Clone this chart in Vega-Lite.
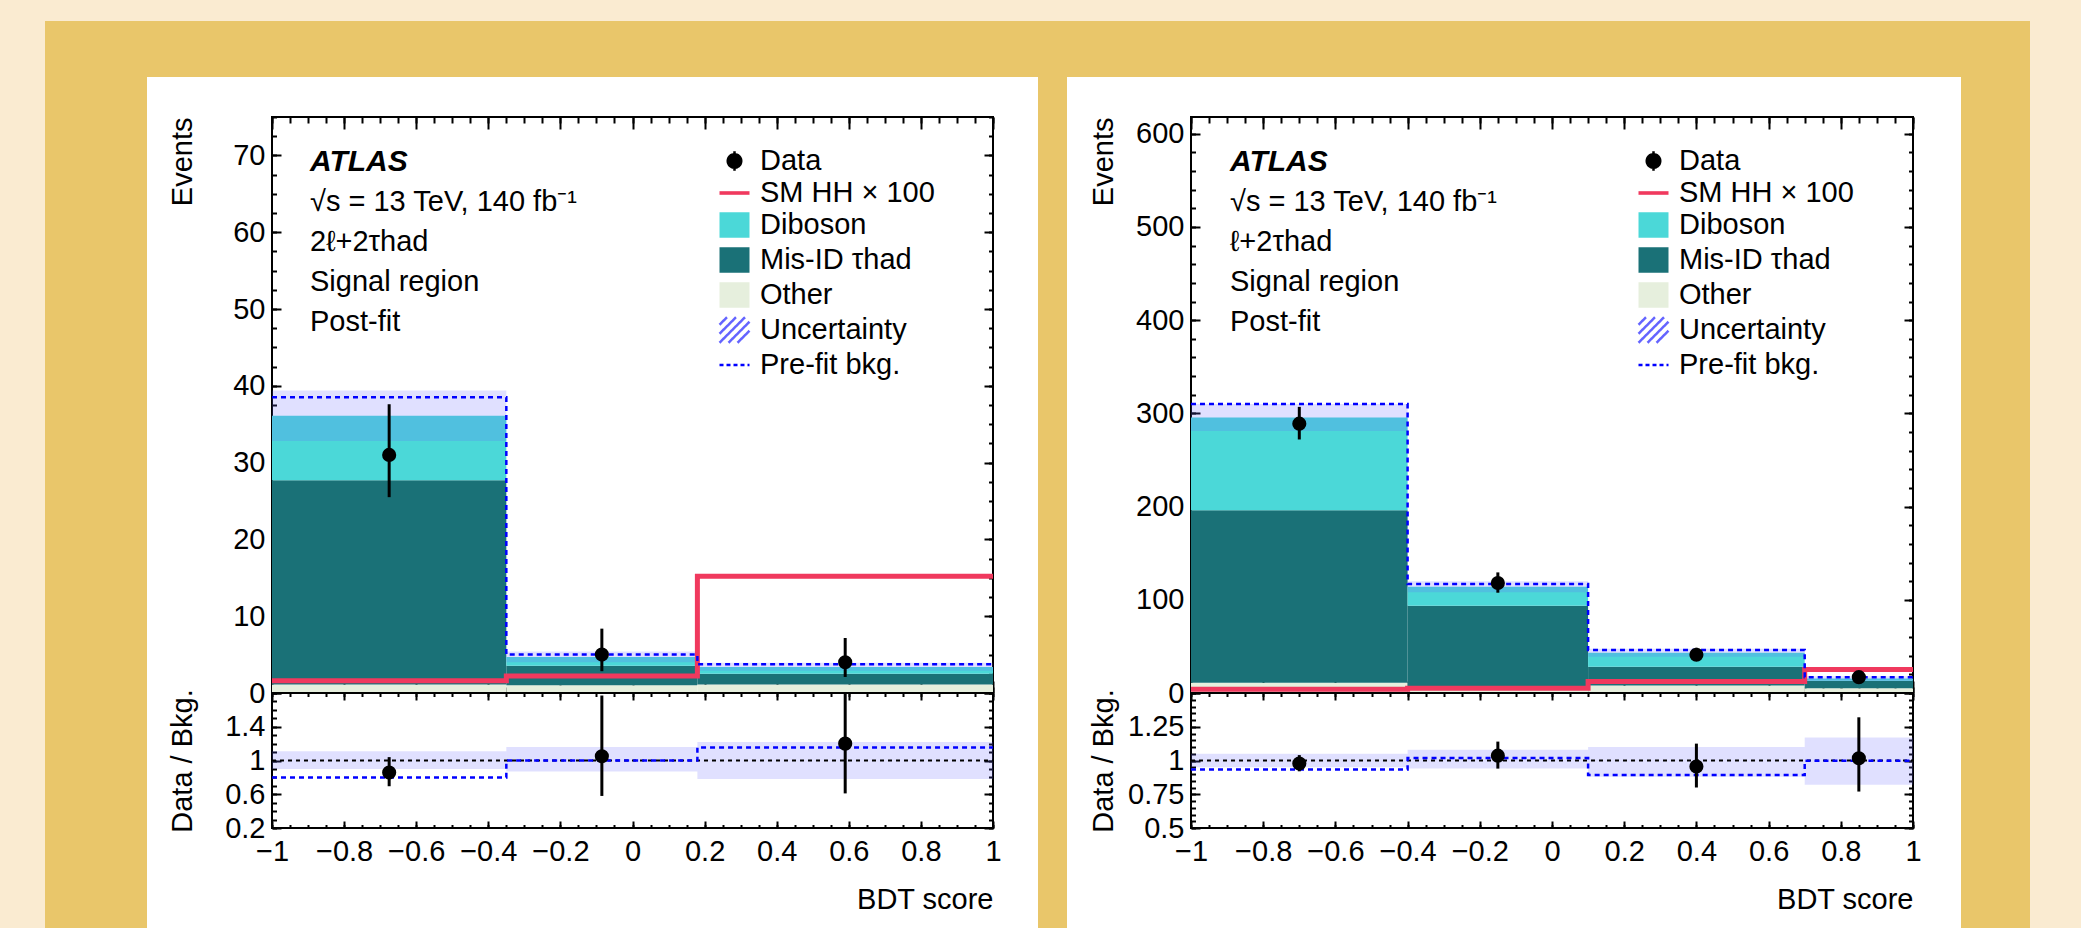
{
  "$schema": "https://vega.github.io/schema/vega-lite/v6.json",
  "background": "white",
  "padding": 0,
  "spacing": 0,
  "config": {
    "font": "Liberation Sans",
    "view": {"stroke": "black", "strokeWidth": 2},
    "axis": {"domain": false, "grid": false, "tickColor": "black", "tickWidth": 2, "labelFont": "Liberation Sans", "labelFontSize": 29, "labelColor": "black", "titleFont": "Liberation Sans", "titleFontSize": 29, "titleFontWeight": "normal", "titleColor": "black", "labelFlush": false, "labelOverlap": false, "labelBound": false},
    "legend": {"orient": "none", "legendX": 446, "legendY": 27.5, "labelFont": "Liberation Sans", "labelFontSize": 29, "labelColor": "black", "symbolSize": 900, "symbolStrokeWidth": 2.5, "rowPadding": -2, "labelOffset": 9, "padding": 0, "labelLimit": 600, "symbolOpacity": 1, "offset": 0}
  },
  "datasets": {
    "Lstack": [
      {"lo": -1, "hi": -0.35, "process": "Other", "events": 1.1},
      {"lo": -1, "hi": -0.35, "process": "Mis-ID", "events": 26.6},
      {"lo": -1, "hi": -0.35, "process": "Diboson", "events": 8.4},
      {"lo": -0.35, "hi": 0.18, "process": "Other", "events": 1.0},
      {"lo": -0.35, "hi": 0.18, "process": "Mis-ID", "events": 2.55},
      {"lo": -0.35, "hi": 0.18, "process": "Diboson", "events": 1.15},
      {"lo": 0.18, "hi": 1, "process": "Other", "events": 1.1},
      {"lo": 0.18, "hi": 1, "process": "Mis-ID", "events": 1.4},
      {"lo": 0.18, "hi": 1, "process": "Diboson", "events": 0.9}
    ],
    "Lbins": [
      {"lo": -1, "hi": -0.35, "center": -0.675, "unc_lo": 32.8, "unc_hi": 39.4, "data": 31, "data_lo": 25.5, "data_hi": 37.6, "r": 0.857, "r_lo": 0.695, "r_hi": 1.04, "runc_lo": 0.9, "runc_hi": 1.11},
      {"lo": -0.35, "hi": 0.18, "center": -0.085, "unc_lo": 4.0, "unc_hi": 5.4, "data": 5, "data_lo": 2.84, "data_hi": 8.38, "r": 1.05, "r_lo": 0.58, "r_hi": 1.77, "runc_lo": 0.87, "runc_hi": 1.16},
      {"lo": 0.18, "hi": 1, "center": 0.59, "unc_lo": 2.9, "unc_hi": 3.95, "data": 4, "data_lo": 2.09, "data_hi": 7.16, "r": 1.2, "r_lo": 0.61, "r_hi": 2.15, "runc_lo": 0.78, "runc_hi": 1.22}
    ],
    "Lstep": [
      {"edge": -1, "signal": 1.6, "prefit": 38.5, "r_prefit": 0.8},
      {"edge": -0.35, "signal": 2.2, "prefit": 5.0, "r_prefit": 1.0},
      {"edge": 0.18, "signal": 15.2, "prefit": 3.75, "r_prefit": 1.155},
      {"edge": 1, "signal": 15.2, "prefit": 3.75, "r_prefit": 1.155}
    ],
    "Rstack": [
      {"lo": -1, "hi": -0.4, "process": "Other", "events": 11},
      {"lo": -1, "hi": -0.4, "process": "Mis-ID", "events": 185},
      {"lo": -1, "hi": -0.4, "process": "Diboson", "events": 99.5},
      {"lo": -0.4, "hi": 0.1, "process": "Other", "events": 4},
      {"lo": -0.4, "hi": 0.1, "process": "Mis-ID", "events": 89.6},
      {"lo": -0.4, "hi": 0.1, "process": "Diboson", "events": 20.4},
      {"lo": 0.1, "hi": 0.7, "process": "Other", "events": 8},
      {"lo": 0.1, "hi": 0.7, "process": "Mis-ID", "events": 20.2},
      {"lo": 0.1, "hi": 0.7, "process": "Diboson", "events": 15},
      {"lo": 0.7, "hi": 1, "process": "Other", "events": 5},
      {"lo": 0.7, "hi": 1, "process": "Mis-ID", "events": 8.2},
      {"lo": 0.7, "hi": 1, "process": "Diboson", "events": 2.3}
    ],
    "Rbins": [
      {"lo": -1, "hi": -0.4, "center": -0.7, "unc_lo": 281, "unc_hi": 310, "data": 289, "data_lo": 272, "data_hi": 307, "r": 0.978, "r_lo": 0.92, "r_hi": 1.04, "runc_lo": 0.95, "runc_hi": 1.05},
      {"lo": -0.4, "hi": 0.1, "center": -0.15, "unc_lo": 108, "unc_hi": 120, "data": 118, "data_lo": 107.6, "data_hi": 129.4, "r": 1.036, "r_lo": 0.94, "r_hi": 1.14, "runc_lo": 0.94, "runc_hi": 1.08},
      {"lo": 0.1, "hi": 0.7, "center": 0.4, "unc_lo": 39, "unc_hi": 47.5, "data": 41, "data_lo": 34.6, "data_hi": 48.5, "r": 0.955, "r_lo": 0.8, "r_hi": 1.125, "runc_lo": 0.88, "runc_hi": 1.1},
      {"lo": 0.7, "hi": 1, "center": 0.85, "unc_lo": 13, "unc_hi": 18, "data": 17, "data_lo": 12.9, "data_hi": 22.2, "r": 1.016, "r_lo": 0.77, "r_hi": 1.32, "runc_lo": 0.82, "runc_hi": 1.17}
    ],
    "Rstep": [
      {"edge": -1, "signal": 4, "prefit": 310, "r_prefit": 0.933},
      {"edge": -0.4, "signal": 5, "prefit": 117, "r_prefit": 1.018},
      {"edge": 0.1, "signal": 12.3, "prefit": 46.1, "r_prefit": 0.893},
      {"edge": 0.7, "signal": 25.2, "prefit": 16.8, "r_prefit": 0.998},
      {"edge": 1, "signal": 25.2, "prefit": 16.8, "r_prefit": 0.998}
    ]
  },
  "vconcat": [
    {"width": 2081, "height": 21, "data": {"values": []}, "mark": "point", "view": {"fill": "#FAEBD1", "stroke": null}},
    {
      "spacing": 0,
      "hconcat": [
        {"width": 45, "height": 907, "data": {"values": []}, "mark": "point", "view": {"fill": "#FAEBD1", "stroke": null}},
        {
          "spacing": 0,
          "vconcat": [
            {"width": 1916, "height": 56, "data": {"values": []}, "mark": "point", "view": {"fill": "#E9C66A", "stroke": null}},
            {
              "spacing": 34,
              "hconcat": [
                {
                  "spacing": 20,
                  "hconcat": [
                    {"width": 102, "height": 851, "data": {"values": []}, "mark": "point", "view": {"fill": "#E9C66A", "stroke": null}},
                    {
                      "spacing": 0,
                      "bounds": "flush",
                      "resolve": {"scale": {"color": "independent", "fill": "independent", "stroke": "independent", "shape": "independent", "strokeDash": "independent"}, "legend": {"color": "independent", "fill": "independent", "stroke": "independent", "shape": "independent", "strokeDash": "independent"}},
                      "vconcat": [
                        {"width": 721, "height": 40, "data": {"values": []}, "mark": "point", "view": {"stroke": null}},
                        {
                          "width": 721, "height": 576,
                          "resolve": {"axis": {"x": "independent", "y": "independent"}},
                          "title": {"text": "ATLAS", "subtitle": ["√s = 13 TeV, 140 fb⁻¹", "2ℓ+2τhad", "Signal region", "Post-fit"], "anchor": "start", "frame": "group", "orient": "top", "offset": -221, "dx": 38, "font": "Liberation Sans", "fontSize": 30, "fontStyle": "italic", "fontWeight": "bold", "color": "black", "subtitleFont": "Liberation Sans", "subtitleFontSize": 29, "subtitleColor": "black", "subtitleLineHeight": 40, "subtitlePadding": 11},
                          "layer": [
                            {
                              "data": {"name": "Lstack"},
                              "transform": [{"stack": "events", "groupby": ["lo"], "sort": [{"field": "process", "order": "descending"}], "as": ["s0", "s1"]}],
                              "mark": {"type": "rect"},
                              "encoding": {
                                "x": {"field": "lo", "type": "quantitative", "scale": {"domain": [-1, 1], "nice": false, "zero": false}, "axis": {"orient": "bottom", "values": [-1,-0.8,-0.6,-0.4,-0.2,0,0.2,0.4,0.6,0.8,1], "tickSize": -12, "labels": false, "title": null, "minExtent": 0, "maxExtent": 0}},
                                "x2": {"field": "hi"},
                                "y": {"field": "s0", "type": "quantitative", "scale": {"domain": [0, 75], "nice": false, "zero": false}, "axis": {"orient": "left", "values": [0,10,20,30,40,50,60,70], "format": ".0f", "ticks": false, "labelPadding": 7, "title": "Events", "titleAnchor": "end", "titlePadding": 23, "minExtent": 52, "maxExtent": 52}},
                                "y2": {"field": "s1"},
                                "color": {"field": "process", "type": "nominal", "scale": {"domain": ["Diboson", "Mis-ID", "Other"], "range": ["#4BD8D8", "#1A7177", "#E6EFDD"]}, "legend": null}
                              }
                            },
                            {
                              "data": {"name": "Lbins"},
                              "mark": {"type": "rect", "fill": "#6464FF", "fillOpacity": 0.2},
                              "encoding": {
                                "x": {"field": "lo", "type": "quantitative", "scale": {"domain": [-1, 1], "nice": false, "zero": false}, "axis": {"orient": "bottom", "values": [-1,-0.95,-0.9,-0.85,-0.8,-0.75,-0.7,-0.65,-0.6,-0.55,-0.5,-0.45,-0.4,-0.35,-0.3,-0.25,-0.2,-0.15,-0.1,-0.05,0,0.05,0.1,0.15,0.2,0.25,0.3,0.35,0.4,0.45,0.5,0.55,0.6,0.65,0.7,0.75,0.8,0.85,0.9,0.95,1], "tickSize": -6, "labels": false, "title": null, "minExtent": 0, "maxExtent": 0}},
                                "x2": {"field": "hi"},
                                "y": {"field": "unc_lo", "type": "quantitative", "scale": {"domain": [0, 75], "nice": false, "zero": false}, "axis": {"orient": "left", "values": [0,10,20,30,40,50,60,70], "tickSize": -9, "labels": false, "title": null, "minExtent": 0, "maxExtent": 0}},
                                "y2": {"field": "unc_hi"}
                              }
                            },
                            {
                              "data": {"name": "Lstep"},
                              "mark": {"type": "line", "interpolate": "step-after", "color": "#F0395E", "strokeWidth": 5},
                              "encoding": {
                                "x": {"field": "edge", "type": "quantitative", "scale": {"domain": [-1, 1], "nice": false, "zero": false}, "axis": {"orient": "top", "values": [-1,-0.8,-0.6,-0.4,-0.2,0,0.2,0.4,0.6,0.8,1], "tickSize": -12, "labels": false, "title": null, "minExtent": 0, "maxExtent": 0}},
                                "y": {"field": "signal", "type": "quantitative", "scale": {"domain": [0, 75], "nice": false, "zero": false}, "axis": {"orient": "left", "values": [0,2.5,5,7.5,10,12.5,15,17.5,20,22.5,25,27.5,30,32.5,35,37.5,40,42.5,45,47.5,50,52.5,55,57.5,60,62.5,65,67.5,70,72.5,75], "tickSize": -4.5, "labels": false, "title": null, "minExtent": 0, "maxExtent": 0}}
                              }
                            },
                            {
                              "data": {"name": "Lstep"},
                              "mark": {"type": "line", "interpolate": "step-after", "color": "#0000FF", "strokeWidth": 2.5, "strokeDash": [5, 4]},
                              "encoding": {
                                "x": {"field": "edge", "type": "quantitative", "scale": {"domain": [-1, 1], "nice": false, "zero": false}, "axis": {"orient": "top", "values": [-1,-0.95,-0.9,-0.85,-0.8,-0.75,-0.7,-0.65,-0.6,-0.55,-0.5,-0.45,-0.4,-0.35,-0.3,-0.25,-0.2,-0.15,-0.1,-0.05,0,0.05,0.1,0.15,0.2,0.25,0.3,0.35,0.4,0.45,0.5,0.55,0.6,0.65,0.7,0.75,0.8,0.85,0.9,0.95,1], "tickSize": -6, "labels": false, "title": null, "minExtent": 0, "maxExtent": 0}},
                                "y": {"field": "prefit", "type": "quantitative", "scale": {"domain": [0, 75], "nice": false, "zero": false}, "axis": {"orient": "right", "values": [0,10,20,30,40,50,60,70], "tickSize": -9, "labels": false, "title": null, "minExtent": 0, "maxExtent": 0}}
                              }
                            },
                            {
                              "data": {"name": "Lbins"},
                              "mark": {"type": "rule", "color": "black", "strokeWidth": 3},
                              "encoding": {
                                "x": {"field": "center", "type": "quantitative", "scale": {"domain": [-1, 1], "nice": false, "zero": false}, "axis": null},
                                "y": {"field": "data_lo", "type": "quantitative", "scale": {"domain": [0, 75], "nice": false, "zero": false}, "axis": {"orient": "right", "values": [0,2.5,5,7.5,10,12.5,15,17.5,20,22.5,25,27.5,30,32.5,35,37.5,40,42.5,45,47.5,50,52.5,55,57.5,60,62.5,65,67.5,70,72.5,75], "tickSize": -4.5, "labels": false, "title": null, "minExtent": 0, "maxExtent": 0}},
                                "y2": {"field": "data_hi"}
                              }
                            },
                            {
                              "data": {"name": "Lbins"},
                              "mark": {"type": "circle", "color": "black", "size": 200, "opacity": 1},
                              "encoding": {
                                "x": {"field": "center", "type": "quantitative", "scale": {"domain": [-1, 1], "nice": false, "zero": false}, "axis": null},
                                "y": {"field": "data", "type": "quantitative", "scale": {"domain": [0, 75], "nice": false, "zero": false}, "axis": null}
                              }
                            },
                            {
                              "data": {"values": []},
                              "mark": {"type": "point", "filled": true, "size": 900, "opacity": 1, "strokeWidth": 2.5},
                              "encoding": {
                                "shape": {"field": "entry", "type": "nominal", "scale": {"domain": ["Data", "SM HH × 100", "Diboson", "Mis-ID τhad", "Other", "Uncertainty", "Pre-fit bkg."], "range": ["M0,-0.65V0.65M-0.45,0A0.45,0.45,0,1,1,0.45,0A0.45,0.45,0,1,1,-0.45,0Z", "M-1,-0.12H1V0.12H-1Z", "M-1,-0.85H1V0.85H-1Z", "M-1,-0.85H1V0.85H-1Z", "M-1,-0.85H1V0.85H-1Z", "M-1,-0.35L-0.5,-0.85M-1,0.25L0.1,-0.85M-1,0.85L0.7,-0.85M-0.4,0.85L1,-0.55M0.2,0.85L1,0.05", "M-1,0H1"]}, "legend": {"title": null}},
                                "fill": {"field": "entry", "type": "nominal", "scale": {"domain": ["Data", "SM HH × 100", "Diboson", "Mis-ID τhad", "Other", "Uncertainty", "Pre-fit bkg."], "range": ["black", "#F0395E", "#4BD8D8", "#1A7177", "#E6EFDD", "transparent", "transparent"]}, "legend": {"title": null}},
                                "stroke": {"field": "entry", "type": "nominal", "scale": {"domain": ["Data", "SM HH × 100", "Diboson", "Mis-ID τhad", "Other", "Uncertainty", "Pre-fit bkg."], "range": ["black", "transparent", "transparent", "transparent", "transparent", "#6464FF", "#0000FF"]}, "legend": {"title": null}},
                                "strokeDash": {"field": "entry", "type": "nominal", "scale": {"domain": ["Data", "SM HH × 100", "Diboson", "Mis-ID τhad", "Other", "Uncertainty", "Pre-fit bkg."], "range": [[1, 0], [1, 0], [1, 0], [1, 0], [1, 0], [1, 0], [4, 3]]}, "legend": {"title": null}}
                              }
                            }
                          ]
                        },
                        {
                          "width": 721, "height": 135,
                          "resolve": {"axis": {"x": "independent", "y": "independent"}},
                          "layer": [
                            {
                              "data": {"name": "Lbins"},
                              "mark": {"type": "rect", "fill": "#6464FF", "fillOpacity": 0.2},
                              "encoding": {
                                "x": {"field": "lo", "type": "quantitative", "scale": {"domain": [-1, 1], "nice": false, "zero": false}, "axis": {"orient": "bottom", "values": [-1,-0.8,-0.6,-0.4,-0.2,0,0.2,0.4,0.6,0.8,1], "format": ".1~f", "ticks": false, "labelPadding": 9, "title": "BDT score", "titleAnchor": "end", "titlePadding": 19}},
                                "x2": {"field": "hi"},
                                "y": {"field": "runc_lo", "type": "quantitative", "scale": {"domain": [0.2, 1.8], "nice": false, "zero": false}, "axis": {"orient": "left", "values": [0.2, 0.6, 1, 1.4], "format": ".1~f", "ticks": false, "labelPadding": 7, "title": "Data / Bkg.", "titlePadding": 23, "minExtent": 52, "maxExtent": 52}},
                                "y2": {"field": "runc_hi"}
                              }
                            },
                            {
                              "data": {"values": [{}]},
                              "mark": {"type": "rule", "color": "black", "strokeWidth": 2, "strokeDash": [4, 4]},
                              "encoding": {
                                "x": {"datum": -1, "type": "quantitative", "scale": {"domain": [-1, 1], "nice": false, "zero": false}, "axis": {"orient": "bottom", "values": [-1,-0.8,-0.6,-0.4,-0.2,0,0.2,0.4,0.6,0.8,1], "tickSize": -7, "labels": false, "title": null, "minExtent": 0, "maxExtent": 0}},
                                "x2": {"datum": 1},
                                "y": {"datum": 1, "type": "quantitative", "scale": {"domain": [0.2, 1.8], "nice": false, "zero": false}, "axis": {"orient": "left", "values": [0.2, 0.6, 1, 1.4, 1.8], "tickSize": -9, "labels": false, "title": null, "minExtent": 0, "maxExtent": 0}}
                              }
                            },
                            {
                              "data": {"name": "Lstep"},
                              "mark": {"type": "line", "interpolate": "step-after", "color": "#0000FF", "strokeWidth": 2.5, "strokeDash": [5, 4]},
                              "encoding": {
                                "x": {"field": "edge", "type": "quantitative", "scale": {"domain": [-1, 1], "nice": false, "zero": false}, "axis": {"orient": "bottom", "values": [-1,-0.95,-0.9,-0.85,-0.8,-0.75,-0.7,-0.65,-0.6,-0.55,-0.5,-0.45,-0.4,-0.35,-0.3,-0.25,-0.2,-0.15,-0.1,-0.05,0,0.05,0.1,0.15,0.2,0.25,0.3,0.35,0.4,0.45,0.5,0.55,0.6,0.65,0.7,0.75,0.8,0.85,0.9,0.95,1], "tickSize": -3.5, "labels": false, "title": null, "minExtent": 0, "maxExtent": 0}},
                                "y": {"field": "r_prefit", "type": "quantitative", "scale": {"domain": [0.2, 1.8], "nice": false, "zero": false}, "axis": {"orient": "left", "values": [0.2,0.3,0.4,0.5,0.6,0.7,0.8,0.9,1,1.1,1.2,1.3,1.4,1.5,1.6,1.7,1.8], "tickSize": -4.5, "labels": false, "title": null, "minExtent": 0, "maxExtent": 0}}
                              }
                            },
                            {
                              "data": {"name": "Lbins"},
                              "mark": {"type": "rule", "color": "black", "strokeWidth": 3, "clip": true},
                              "encoding": {
                                "x": {"field": "center", "type": "quantitative", "scale": {"domain": [-1, 1], "nice": false, "zero": false}, "axis": {"orient": "top", "values": [-1,-0.8,-0.6,-0.4,-0.2,0,0.2,0.4,0.6,0.8,1], "tickSize": -7, "labels": false, "title": null, "minExtent": 0, "maxExtent": 0}},
                                "y": {"field": "r_lo", "type": "quantitative", "scale": {"domain": [0.2, 1.8], "nice": false, "zero": false}, "axis": {"orient": "right", "values": [0.2, 0.6, 1, 1.4, 1.8], "tickSize": -9, "labels": false, "title": null, "minExtent": 0, "maxExtent": 0}},
                                "y2": {"field": "r_hi"}
                              }
                            },
                            {
                              "data": {"name": "Lbins"},
                              "mark": {"type": "circle", "color": "black", "size": 200, "opacity": 1},
                              "encoding": {
                                "x": {"field": "center", "type": "quantitative", "scale": {"domain": [-1, 1], "nice": false, "zero": false}, "axis": {"orient": "top", "values": [-1,-0.95,-0.9,-0.85,-0.8,-0.75,-0.7,-0.65,-0.6,-0.55,-0.5,-0.45,-0.4,-0.35,-0.3,-0.25,-0.2,-0.15,-0.1,-0.05,0,0.05,0.1,0.15,0.2,0.25,0.3,0.35,0.4,0.45,0.5,0.55,0.6,0.65,0.7,0.75,0.8,0.85,0.9,0.95,1], "tickSize": -3.5, "labels": false, "title": null, "minExtent": 0, "maxExtent": 0}},
                                "y": {"field": "r", "type": "quantitative", "scale": {"domain": [0.2, 1.8], "nice": false, "zero": false}, "axis": {"orient": "right", "values": [0.2,0.3,0.4,0.5,0.6,0.7,0.8,0.9,1,1.1,1.2,1.3,1.4,1.5,1.6,1.7,1.8], "tickSize": -4.5, "labels": false, "title": null, "minExtent": 0, "maxExtent": 0}}
                              }
                            }
                          ]
                        }
                      ]
                    }
                  ]
                },
                {
                  "spacing": 21,
                  "hconcat": [
                    {"width": 29, "height": 851, "data": {"values": []}, "mark": "point", "view": {"fill": "#E9C66A", "stroke": null}},
                    {
                      "spacing": 0,
                      "bounds": "flush",
                      "resolve": {"scale": {"color": "independent", "fill": "independent", "stroke": "independent", "shape": "independent", "strokeDash": "independent"}, "legend": {"color": "independent", "fill": "independent", "stroke": "independent", "shape": "independent", "strokeDash": "independent"}},
                      "vconcat": [
                        {"width": 722, "height": 40, "data": {"values": []}, "mark": "point", "view": {"stroke": null}},
                        {
                          "width": 722, "height": 576,
                          "resolve": {"axis": {"x": "independent", "y": "independent"}},
                          "title": {"text": "ATLAS", "subtitle": ["√s = 13 TeV, 140 fb⁻¹", "ℓ+2τhad", "Signal region", "Post-fit"], "anchor": "start", "frame": "group", "orient": "top", "offset": -221, "dx": 39, "font": "Liberation Sans", "fontSize": 30, "fontStyle": "italic", "fontWeight": "bold", "color": "black", "subtitleFont": "Liberation Sans", "subtitleFontSize": 29, "subtitleColor": "black", "subtitleLineHeight": 40, "subtitlePadding": 11},
                          "layer": [
                            {
                              "data": {"name": "Rstack"},
                              "transform": [{"stack": "events", "groupby": ["lo"], "sort": [{"field": "process", "order": "descending"}], "as": ["s0", "s1"]}],
                              "mark": {"type": "rect"},
                              "encoding": {
                                "x": {"field": "lo", "type": "quantitative", "scale": {"domain": [-1, 1], "nice": false, "zero": false}, "axis": {"orient": "bottom", "values": [-1,-0.8,-0.6,-0.4,-0.2,0,0.2,0.4,0.6,0.8,1], "tickSize": -12, "labels": false, "title": null, "minExtent": 0, "maxExtent": 0}},
                                "x2": {"field": "hi"},
                                "y": {"field": "s0", "type": "quantitative", "scale": {"domain": [0, 618], "nice": false, "zero": false}, "axis": {"orient": "left", "values": [0,100,200,300,400,500,600], "format": ".0f", "ticks": false, "labelPadding": 7, "title": "Events", "titleAnchor": "end", "titlePadding": 13, "minExtent": 60, "maxExtent": 60}},
                                "y2": {"field": "s1"},
                                "color": {"field": "process", "type": "nominal", "scale": {"domain": ["Diboson", "Mis-ID", "Other"], "range": ["#4BD8D8", "#1A7177", "#E6EFDD"]}, "legend": null}
                              }
                            },
                            {
                              "data": {"name": "Rbins"},
                              "mark": {"type": "rect", "fill": "#6464FF", "fillOpacity": 0.2},
                              "encoding": {
                                "x": {"field": "lo", "type": "quantitative", "scale": {"domain": [-1, 1], "nice": false, "zero": false}, "axis": {"orient": "bottom", "values": [-1,-0.95,-0.9,-0.85,-0.8,-0.75,-0.7,-0.65,-0.6,-0.55,-0.5,-0.45,-0.4,-0.35,-0.3,-0.25,-0.2,-0.15,-0.1,-0.05,0,0.05,0.1,0.15,0.2,0.25,0.3,0.35,0.4,0.45,0.5,0.55,0.6,0.65,0.7,0.75,0.8,0.85,0.9,0.95,1], "tickSize": -6, "labels": false, "title": null, "minExtent": 0, "maxExtent": 0}},
                                "x2": {"field": "hi"},
                                "y": {"field": "unc_lo", "type": "quantitative", "scale": {"domain": [0, 618], "nice": false, "zero": false}, "axis": {"orient": "left", "values": [0,100,200,300,400,500,600], "tickSize": -9, "labels": false, "title": null, "minExtent": 0, "maxExtent": 0}},
                                "y2": {"field": "unc_hi"}
                              }
                            },
                            {
                              "data": {"name": "Rstep"},
                              "mark": {"type": "line", "interpolate": "step-after", "color": "#F0395E", "strokeWidth": 5},
                              "encoding": {
                                "x": {"field": "edge", "type": "quantitative", "scale": {"domain": [-1, 1], "nice": false, "zero": false}, "axis": {"orient": "top", "values": [-1,-0.8,-0.6,-0.4,-0.2,0,0.2,0.4,0.6,0.8,1], "tickSize": -12, "labels": false, "title": null, "minExtent": 0, "maxExtent": 0}},
                                "y": {"field": "signal", "type": "quantitative", "scale": {"domain": [0, 618], "nice": false, "zero": false}, "axis": {"orient": "left", "values": [0,20,40,60,80,100,120,140,160,180,200,220,240,260,280,300,320,340,360,380,400,420,440,460,480,500,520,540,560,580,600], "tickSize": -4.5, "labels": false, "title": null, "minExtent": 0, "maxExtent": 0}}
                              }
                            },
                            {
                              "data": {"name": "Rstep"},
                              "mark": {"type": "line", "interpolate": "step-after", "color": "#0000FF", "strokeWidth": 2.5, "strokeDash": [5, 4]},
                              "encoding": {
                                "x": {"field": "edge", "type": "quantitative", "scale": {"domain": [-1, 1], "nice": false, "zero": false}, "axis": {"orient": "top", "values": [-1,-0.95,-0.9,-0.85,-0.8,-0.75,-0.7,-0.65,-0.6,-0.55,-0.5,-0.45,-0.4,-0.35,-0.3,-0.25,-0.2,-0.15,-0.1,-0.05,0,0.05,0.1,0.15,0.2,0.25,0.3,0.35,0.4,0.45,0.5,0.55,0.6,0.65,0.7,0.75,0.8,0.85,0.9,0.95,1], "tickSize": -6, "labels": false, "title": null, "minExtent": 0, "maxExtent": 0}},
                                "y": {"field": "prefit", "type": "quantitative", "scale": {"domain": [0, 618], "nice": false, "zero": false}, "axis": {"orient": "right", "values": [0,100,200,300,400,500,600], "tickSize": -9, "labels": false, "title": null, "minExtent": 0, "maxExtent": 0}}
                              }
                            },
                            {
                              "data": {"name": "Rbins"},
                              "mark": {"type": "rule", "color": "black", "strokeWidth": 3},
                              "encoding": {
                                "x": {"field": "center", "type": "quantitative", "scale": {"domain": [-1, 1], "nice": false, "zero": false}, "axis": null},
                                "y": {"field": "data_lo", "type": "quantitative", "scale": {"domain": [0, 618], "nice": false, "zero": false}, "axis": {"orient": "right", "values": [0,20,40,60,80,100,120,140,160,180,200,220,240,260,280,300,320,340,360,380,400,420,440,460,480,500,520,540,560,580,600], "tickSize": -4.5, "labels": false, "title": null, "minExtent": 0, "maxExtent": 0}},
                                "y2": {"field": "data_hi"}
                              }
                            },
                            {
                              "data": {"name": "Rbins"},
                              "mark": {"type": "circle", "color": "black", "size": 200, "opacity": 1},
                              "encoding": {
                                "x": {"field": "center", "type": "quantitative", "scale": {"domain": [-1, 1], "nice": false, "zero": false}, "axis": null},
                                "y": {"field": "data", "type": "quantitative", "scale": {"domain": [0, 618], "nice": false, "zero": false}, "axis": null}
                              }
                            },
                            {
                              "data": {"values": []},
                              "mark": {"type": "point", "filled": true, "size": 900, "opacity": 1, "strokeWidth": 2.5},
                              "encoding": {
                                "shape": {"field": "entry", "type": "nominal", "scale": {"domain": ["Data", "SM HH × 100", "Diboson", "Mis-ID τhad", "Other", "Uncertainty", "Pre-fit bkg."], "range": ["M0,-0.65V0.65M-0.45,0A0.45,0.45,0,1,1,0.45,0A0.45,0.45,0,1,1,-0.45,0Z", "M-1,-0.12H1V0.12H-1Z", "M-1,-0.85H1V0.85H-1Z", "M-1,-0.85H1V0.85H-1Z", "M-1,-0.85H1V0.85H-1Z", "M-1,-0.35L-0.5,-0.85M-1,0.25L0.1,-0.85M-1,0.85L0.7,-0.85M-0.4,0.85L1,-0.55M0.2,0.85L1,0.05", "M-1,0H1"]}, "legend": {"title": null}},
                                "fill": {"field": "entry", "type": "nominal", "scale": {"domain": ["Data", "SM HH × 100", "Diboson", "Mis-ID τhad", "Other", "Uncertainty", "Pre-fit bkg."], "range": ["black", "#F0395E", "#4BD8D8", "#1A7177", "#E6EFDD", "transparent", "transparent"]}, "legend": {"title": null}},
                                "stroke": {"field": "entry", "type": "nominal", "scale": {"domain": ["Data", "SM HH × 100", "Diboson", "Mis-ID τhad", "Other", "Uncertainty", "Pre-fit bkg."], "range": ["black", "transparent", "transparent", "transparent", "transparent", "#6464FF", "#0000FF"]}, "legend": {"title": null}},
                                "strokeDash": {"field": "entry", "type": "nominal", "scale": {"domain": ["Data", "SM HH × 100", "Diboson", "Mis-ID τhad", "Other", "Uncertainty", "Pre-fit bkg."], "range": [[1, 0], [1, 0], [1, 0], [1, 0], [1, 0], [1, 0], [4, 3]]}, "legend": {"title": null}}
                              }
                            }
                          ]
                        },
                        {
                          "width": 722, "height": 135,
                          "resolve": {"axis": {"x": "independent", "y": "independent"}},
                          "layer": [
                            {
                              "data": {"name": "Rbins"},
                              "mark": {"type": "rect", "fill": "#6464FF", "fillOpacity": 0.2},
                              "encoding": {
                                "x": {"field": "lo", "type": "quantitative", "scale": {"domain": [-1, 1], "nice": false, "zero": false}, "axis": {"orient": "bottom", "values": [-1,-0.8,-0.6,-0.4,-0.2,0,0.2,0.4,0.6,0.8,1], "format": ".1~f", "ticks": false, "labelPadding": 9, "title": "BDT score", "titleAnchor": "end", "titlePadding": 19}},
                                "x2": {"field": "hi"},
                                "y": {"field": "runc_lo", "type": "quantitative", "scale": {"domain": [0.5, 1.5], "nice": false, "zero": false}, "axis": {"orient": "left", "values": [0.5, 0.75, 1, 1.25], "format": ".2~f", "ticks": false, "labelPadding": 7, "title": "Data / Bkg.", "titlePadding": 13, "minExtent": 60, "maxExtent": 60}},
                                "y2": {"field": "runc_hi"}
                              }
                            },
                            {
                              "data": {"values": [{}]},
                              "mark": {"type": "rule", "color": "black", "strokeWidth": 2, "strokeDash": [4, 4]},
                              "encoding": {
                                "x": {"datum": -1, "type": "quantitative", "scale": {"domain": [-1, 1], "nice": false, "zero": false}, "axis": {"orient": "bottom", "values": [-1,-0.8,-0.6,-0.4,-0.2,0,0.2,0.4,0.6,0.8,1], "tickSize": -7, "labels": false, "title": null, "minExtent": 0, "maxExtent": 0}},
                                "x2": {"datum": 1},
                                "y": {"datum": 1, "type": "quantitative", "scale": {"domain": [0.5, 1.5], "nice": false, "zero": false}, "axis": {"orient": "left", "values": [0.5, 0.75, 1, 1.25, 1.5], "tickSize": -9, "labels": false, "title": null, "minExtent": 0, "maxExtent": 0}}
                              }
                            },
                            {
                              "data": {"name": "Rstep"},
                              "mark": {"type": "line", "interpolate": "step-after", "color": "#0000FF", "strokeWidth": 2.5, "strokeDash": [5, 4]},
                              "encoding": {
                                "x": {"field": "edge", "type": "quantitative", "scale": {"domain": [-1, 1], "nice": false, "zero": false}, "axis": {"orient": "bottom", "values": [-1,-0.95,-0.9,-0.85,-0.8,-0.75,-0.7,-0.65,-0.6,-0.55,-0.5,-0.45,-0.4,-0.35,-0.3,-0.25,-0.2,-0.15,-0.1,-0.05,0,0.05,0.1,0.15,0.2,0.25,0.3,0.35,0.4,0.45,0.5,0.55,0.6,0.65,0.7,0.75,0.8,0.85,0.9,0.95,1], "tickSize": -3.5, "labels": false, "title": null, "minExtent": 0, "maxExtent": 0}},
                                "y": {"field": "r_prefit", "type": "quantitative", "scale": {"domain": [0.5, 1.5], "nice": false, "zero": false}, "axis": {"orient": "left", "values": [0.5,0.55,0.6,0.65,0.7,0.75,0.8,0.85,0.9,0.95,1,1.05,1.1,1.15,1.2,1.25,1.3,1.35,1.4,1.45,1.5], "tickSize": -4.5, "labels": false, "title": null, "minExtent": 0, "maxExtent": 0}}
                              }
                            },
                            {
                              "data": {"name": "Rbins"},
                              "mark": {"type": "rule", "color": "black", "strokeWidth": 3, "clip": true},
                              "encoding": {
                                "x": {"field": "center", "type": "quantitative", "scale": {"domain": [-1, 1], "nice": false, "zero": false}, "axis": {"orient": "top", "values": [-1,-0.8,-0.6,-0.4,-0.2,0,0.2,0.4,0.6,0.8,1], "tickSize": -7, "labels": false, "title": null, "minExtent": 0, "maxExtent": 0}},
                                "y": {"field": "r_lo", "type": "quantitative", "scale": {"domain": [0.5, 1.5], "nice": false, "zero": false}, "axis": {"orient": "right", "values": [0.5, 0.75, 1, 1.25, 1.5], "tickSize": -9, "labels": false, "title": null, "minExtent": 0, "maxExtent": 0}},
                                "y2": {"field": "r_hi"}
                              }
                            },
                            {
                              "data": {"name": "Rbins"},
                              "mark": {"type": "circle", "color": "black", "size": 200, "opacity": 1},
                              "encoding": {
                                "x": {"field": "center", "type": "quantitative", "scale": {"domain": [-1, 1], "nice": false, "zero": false}, "axis": {"orient": "top", "values": [-1,-0.95,-0.9,-0.85,-0.8,-0.75,-0.7,-0.65,-0.6,-0.55,-0.5,-0.45,-0.4,-0.35,-0.3,-0.25,-0.2,-0.15,-0.1,-0.05,0,0.05,0.1,0.15,0.2,0.25,0.3,0.35,0.4,0.45,0.5,0.55,0.6,0.65,0.7,0.75,0.8,0.85,0.9,0.95,1], "tickSize": -3.5, "labels": false, "title": null, "minExtent": 0, "maxExtent": 0}},
                                "y": {"field": "r", "type": "quantitative", "scale": {"domain": [0.5, 1.5], "nice": false, "zero": false}, "axis": {"orient": "right", "values": [0.5,0.55,0.6,0.65,0.7,0.75,0.8,0.85,0.9,0.95,1,1.05,1.1,1.15,1.2,1.25,1.3,1.35,1.4,1.45,1.5], "tickSize": -4.5, "labels": false, "title": null, "minExtent": 0, "maxExtent": 0}}
                              }
                            }
                          ]
                        }
                      ]
                    }
                  ]
                }
              ]
            }
          ]
        },
        {"width": 69, "height": 907, "data": {"values": []}, "mark": "point", "view": {"fill": "#E9C66A", "stroke": null}},
        {"width": 51, "height": 907, "data": {"values": []}, "mark": "point", "view": {"fill": "#FAEBD1", "stroke": null}}
      ]
    }
  ]
}
